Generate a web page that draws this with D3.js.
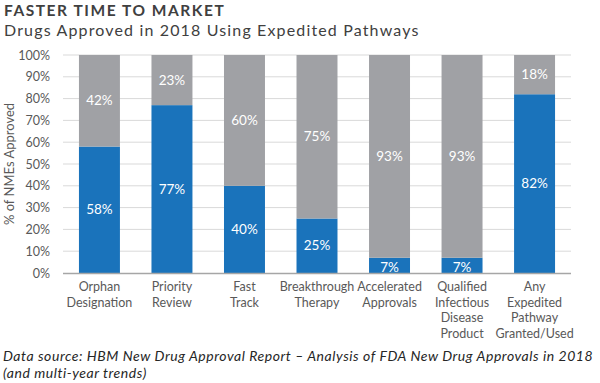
<!DOCTYPE html>
<html>
<head>
<meta charset="utf-8">
<script src="https://cdn.jsdelivr.net/npm/d3@7"></script>
<style>
  body { margin: 0; background: #fff; }
  svg text { font-family: Lato, "Open Sans", sans-serif; }
</style>
</head>
<body>
<svg id="chart"></svg>
<script>
const width = 600, height = 383;
const margin = { top: 55, right: 30, bottom: 110, left: 63 };

const categories = [
  ['Orphan', 'Designation'],
  ['Priority', 'Review'],
  ['Fast', 'Track'],
  ['Breakthrough', 'Therapy'],
  ['Accelerated', 'Approvals'],
  ['Qualified', 'Infectious', 'Disease', 'Product'],
  ['Any', 'Expedited', 'Pathway', 'Granted/Used']
];
const yesValues = [58, 77, 40, 25, 7, 7, 82];
const noValues = [42, 23, 60, 75, 93, 93, 18];
const yTicks = [0, 10, 20, 30, 40, 50, 60, 70, 80, 90, 100];

const blue = '#1a73bb';
const grey = '#a0a1a5';

const svg = d3.select('#chart')
  .attr('width', width)
  .attr('height', height);

const x = d3.scaleBand()
  .domain(d3.range(categories.length))
  .range([margin.left, 571])
  .paddingInner(0.435)
  .paddingOuter(0.22);

const y = d3.scaleLinear()
  .domain([0, 100])
  .range([273, margin.top]);

// gridlines
svg.append('g')
  .selectAll('line')
  .data(yTicks.slice(1))
  .enter()
  .append('line')
  .attr('x1', margin.left)
  .attr('x2', 571)
  .attr('y1', d => y(d))
  .attr('y2', d => y(d))
  .attr('stroke', '#d9d9d9')
  .attr('stroke-width', 1);

// y axis tick labels
svg.append('g')
  .selectAll('text')
  .data(yTicks)
  .enter()
  .append('text')
  .attr('x', 50)
  .attr('y', d => y(d) + 4.5)
  .attr('text-anchor', 'end')
  .attr('fill', '#595959')
  .style('font-size', '12.5px')
  .text(d => d + '%');

// stacked bars
const bars = svg.append('g');
bars.selectAll('.yes')
  .data(yesValues)
  .enter()
  .append('rect')
  .attr('x', (d, i) => x(i))
  .attr('width', x.bandwidth())
  .attr('y', d => y(d))
  .attr('height', d => y(0) - y(d))
  .attr('fill', blue);

bars.selectAll('.no')
  .data(noValues)
  .enter()
  .append('rect')
  .attr('x', (d, i) => x(i))
  .attr('width', x.bandwidth())
  .attr('y', (d, i) => y(yesValues[i] + d))
  .attr('height', (d, i) => y(yesValues[i]) - y(yesValues[i] + d))
  .attr('fill', grey);

// value labels
const labels = svg.append('g')
  .attr('fill', '#fff')
  .style('font-size', '13.5px')
  .attr('text-anchor', 'middle');

labels.selectAll('.yl')
  .data(yesValues)
  .enter()
  .append('text')
  .attr('x', (d, i) => x(i) + x.bandwidth() / 2)
  .attr('y', d => d < 10 ? y(0) - 1.5 : y(d / 2) + 4.5)
  .text(d => d + '%');

labels.selectAll('.nl')
  .data(noValues)
  .enter()
  .append('text')
  .attr('x', (d, i) => x(i) + x.bandwidth() / 2)
  .attr('y', (d, i) => y(yesValues[i] + d / 2) + 4.5)
  .text(d => d + '%');

// x axis line
svg.append('line')
  .attr('x1', margin.left)
  .attr('x2', 571)
  .attr('y1', y(0) + 0.5)
  .attr('y2', y(0) + 0.5)
  .attr('stroke', '#a6a6a6')
  .attr('stroke-width', 1.5);

// category labels
const cat = svg.append('g')
  .selectAll('text')
  .data(categories)
  .enter()
  .append('text')
  .attr('text-anchor', 'middle')
  .attr('fill', '#595959')
  .style('font-size', '12.5px')
  .attr('transform', (d, i) => `translate(${x(i) + x.bandwidth() / 2}, 291)`);

cat.selectAll('tspan')
  .data(d => d)
  .enter()
  .append('tspan')
  .attr('x', 0)
  .attr('y', (d, i) => i * 15.5)
  .text(d => d);

// y axis title
svg.append('text')
  .attr('transform', `translate(14, ${y(50)}) rotate(-90)`)
  .attr('text-anchor', 'middle')
  .attr('fill', '#595959')
  .style('font-size', '13px')
  .text('% of NMEs Approved');

// titles
svg.append('text')
  .attr('x', 4)
  .attr('y', 16)
  .attr('fill', '#404040')
  .style('font-size', '15.5px')
  .style('font-weight', 'bold')
  .style('letter-spacing', '1.55px')
  .text('FASTER TIME TO MARKET');

svg.append('text')
  .attr('x', 4)
  .attr('y', 36)
  .attr('fill', '#404040')
  .style('font-size', '16px')
  .style('letter-spacing', '1.15px')
  .text('Drugs Approved in 2018 Using Expedited Pathways');

// source
const src = svg.append('text')
  .attr('fill', '#262626')
  .style('font-size', '14px')
  .style('font-style', 'italic')
  .style('letter-spacing', '0.55px');
src.append('tspan').attr('x', 3).attr('y', 361)
  .text('Data source: HBM New Drug Approval Report \u2013 Analysis of FDA New Drug Approvals in 2018');
src.append('tspan').attr('x', 3).attr('y', 378)
  .text('(and multi-year trends)');
</script>
</body>
</html>
